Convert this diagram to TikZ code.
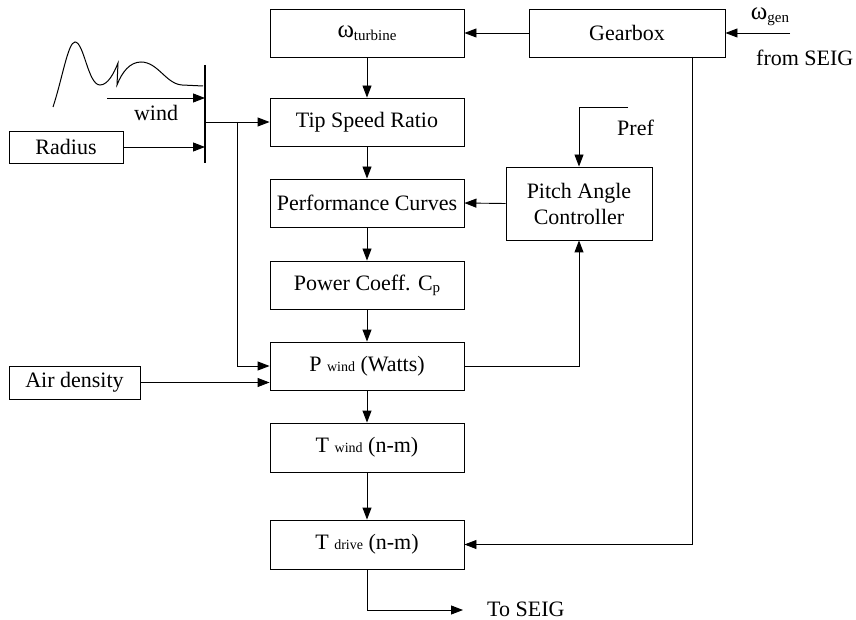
\documentclass[tikz,border=0pt]{standalone}
\usepackage{fontspec}
\setmainfont{Liberation Serif}
\usetikzlibrary{arrows.meta}
\begin{document}
\begin{tikzpicture}[x=1pt,y=-1pt,
  box/.style={draw, line width=0.9pt, minimum width=194pt, minimum height=48pt, inner sep=0pt, font=\fontsize{22}{26}\selectfont},
  arr/.style={-{Triangle[length=12pt,width=9pt]}, line width=0.9pt},
  lbl/.style={font=\fontsize{22}{26}\selectfont, inner sep=0pt}]
\useasboundingbox (0,0) rectangle (856,620);

% central column
\node[box] (omega) at (367,33) {{\fontsize{25}{26}\selectfont ω}\raisebox{-0.3ex}{\fontsize{15}{16}\selectfont turbine}};
\node[box] (tsr) at (367,122) {Tip Speed Ratio};
\node[box] (perf) at (367,203) {Performance Curves};
\node[box] (power) at (367,285) {Power Coeff. C\raisebox{-0.2ex}{\fontsize{15}{16}\selectfont p}};
\node[box] (pwind) at (367,366) {P {\fontsize{14}{15}\selectfont wind} (Watts)};
\node[box, minimum height=49pt] (twind) at (367,447.5) {T {\fontsize{14}{15}\selectfont wind} (n-m)};
\node[box, minimum height=49pt] (tdrive) at (367,544.5) {T {\fontsize{14}{15}\selectfont drive} (n-m)};

% right side
\node[box, minimum width=196pt] (gear) at (627,33) {Gearbox};
\node[box, minimum width=146pt, minimum height=73pt, align=center] (pitch) at (579,203.5) {Pitch Angle\\Controller};

% left side
\node[box, minimum width=114pt, minimum height=32pt] (radius) at (66,147) {Radius};
\node[box, minimum width=131pt, minimum height=33pt] (air) at (74.5,382.5) {Air density};

% labels
\node[lbl] (wgen) at (770,17) {{\fontsize{25}{26}\selectfont ω}\raisebox{-0.3ex}{\fontsize{15}{16}\selectfont gen}};
\node[lbl, anchor=west] (fromseig) at (756,58) {from SEIG};
\node[lbl, anchor=west] (preflbl) at (617,128) {Pref};
\node[lbl] (windlbl) at (156,113) {wind};
\node[lbl, anchor=west] (toseiglbl) at (487,609) {To SEIG};

% coordinates
\coordinate (bartop) at (205,65);
\coordinate (barbot) at (205,163);
\coordinate (bar) at (205,122);
\coordinate (br) at (237,122);
\coordinate (wstart) at (107,98);
\coordinate (wg) at (790,33);
\coordinate (gd) at (692,57);
\coordinate (pref) at (628,107);
\coordinate (toseig) at (463,610);

% bar
\draw[line width=2.6pt] (bartop) -- (barbot);

% wind curve
\draw[line width=1pt] (53,107) .. controls (62,80) and (68,42) .. (75,42)
  .. controls (84,42) and (88,85) .. (100,85)
  .. controls (108,85) and (114,73) .. (118,63) -- (117,85)
  .. controls (122,72) and (130,62) .. (141,62)
  .. controls (158,62) and (166,84) .. (182,85) -- (203,86);

% connectors
\draw[arr] (wstart) -- (wstart -| bar);
\draw[arr] (radius.east) -- (radius.east -| bar);
\draw[arr] (bar) -- (tsr.west);
\draw[arr] (br) |- (pwind.west);
\draw[arr] (air.east) -- (air.east -| pwind.west);

\draw[arr] (omega.south) -- (tsr.north);
\draw[arr] (tsr.south) -- (perf.north);
\draw[arr] (perf.south) -- (power.north);
\draw[arr] (power.south) -- (pwind.north);
\draw[arr] (pwind.south) -- (twind.north);
\draw[arr] (twind.south) -- (tdrive.north);
\draw[arr] (tdrive.south) |- (toseig);

\draw[arr] (gear.west) -- (omega.east);
\draw[arr] (wg) -- (gear.east);
\draw[arr] (gd) |- (tdrive.east);
\draw[arr] (pref) -| (pitch.north);
\draw[arr] (pitch.west) -- (perf.east);
\draw[arr] (pwind.east) -| (pitch.south);
\end{tikzpicture}
\end{document}
